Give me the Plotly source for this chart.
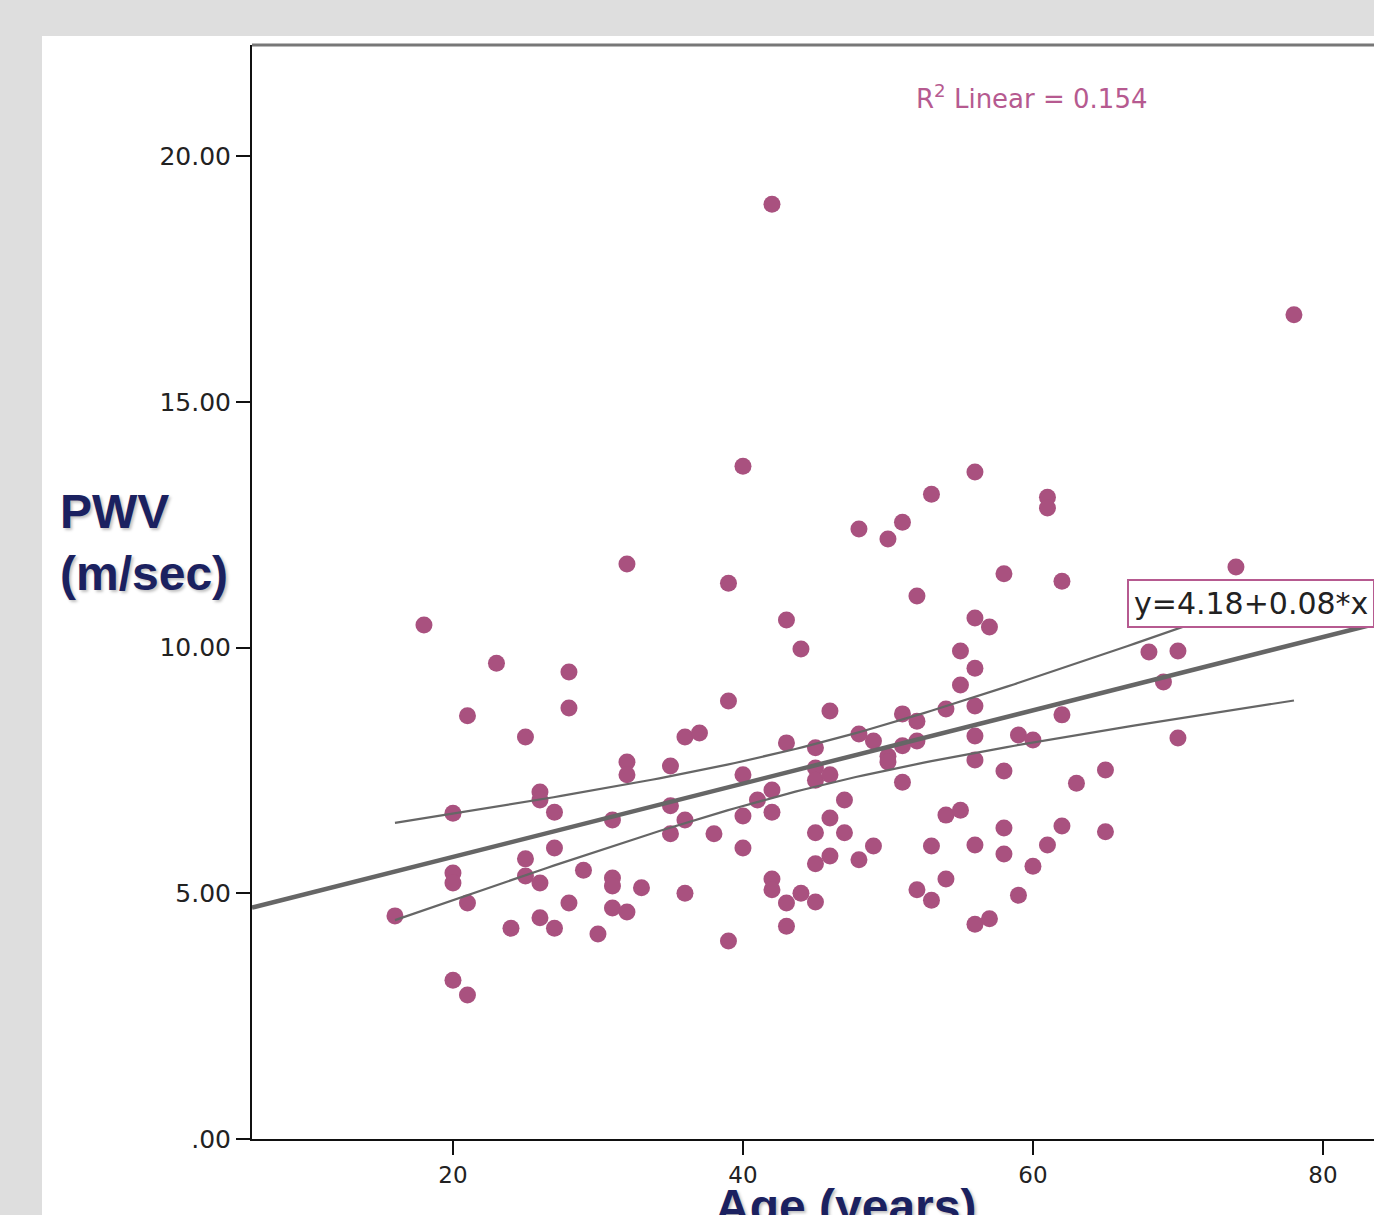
import numpy as np
import plotly.graph_objects as go

# ---------------- data ----------------
AGE = [16, 18, 20, 20, 20, 20, 21, 21, 21, 23, 24, 25, 25, 25, 26, 26, 26, 26,
       27, 27, 27, 28, 28, 28, 29, 30, 31, 31, 31, 31, 32, 32, 32, 32, 33,
       35, 35, 35, 36, 36, 36, 37, 38, 39, 39, 39, 40, 40, 40, 40, 41,
       42, 42, 42, 42, 42, 43, 43, 43, 43, 44, 44,
       45, 45, 45, 45, 45, 45, 46, 46, 46, 46, 47, 47, 48, 48, 48, 49, 49,
       50, 50, 50, 51, 51, 51, 51, 52, 52, 52, 52, 53, 53, 53, 54, 54, 54,
       55, 55, 55, 56, 56, 56, 56, 56, 56, 56, 56, 57, 57, 58, 58, 58, 58,
       59, 59, 60, 60, 61, 61, 61, 62, 62, 62, 63, 65, 65, 68, 69, 70, 70,
       74, 78]
PWV = [4.54, 10.46, 6.63, 5.41, 5.21, 3.23, 8.61, 4.80, 2.93, 9.68, 4.29, 8.18, 5.70, 5.35,
       7.06, 6.90, 5.21, 4.50, 6.65, 5.92, 4.29, 9.50, 8.77, 4.80, 5.47, 4.17,
       6.49, 5.31, 5.15, 4.70, 11.70, 7.67, 7.41, 4.62, 5.11,
       7.59, 6.78, 6.21, 8.18, 6.49, 5.00, 8.26, 6.21, 11.31, 8.91, 4.03,
       13.69, 7.41, 6.57, 5.92, 6.90,
       19.02, 7.10, 6.65, 5.29, 5.07, 10.56, 8.06, 4.80, 4.33, 9.97, 5.00,
       7.96, 7.55, 7.30, 6.23, 5.60, 4.82, 8.71, 7.41, 6.53, 5.76, 6.90, 6.23,
       12.41, 8.24, 5.68, 8.10, 5.96,
       12.21, 7.79, 7.67, 12.55, 8.65, 8.00, 7.26, 11.05, 8.50, 8.10, 5.07,
       13.12, 5.96, 4.86, 8.75, 6.59, 5.29,
       9.93, 9.24, 6.69, 13.57, 10.60, 9.58, 8.81, 8.20, 7.71, 5.98, 4.37,
       10.42, 4.48, 11.50, 7.49, 6.33, 5.80,
       8.22, 4.96, 8.12, 5.55, 13.06, 12.84, 5.98, 11.35, 8.63, 6.37, 7.24,
       7.51, 6.25, 9.91, 9.30, 9.93, 8.16,
       11.64, 16.77]

X_TICKS = [20, 40, 60, 80]
X_TICK_LABELS = ["20", "40", "60", "80"]
Y_TICKS = [0, 5, 10, 15, 20]
Y_TICK_LABELS = [".00", "5.00", "10.00", "15.00", "20.00"]
X_RANGE = [6.14, 83.52]
Y_RANGE = [0, 22.26]

X_TITLE = "<b>Age (years)</b>"
Y_TITLE = "<b>PWV<br>(m/sec)</b>"
R2_LABEL = "R<sup>2</sup> Linear = 0.154"
EQ_LABEL = "y=4.18+0.08*x"
T_CRIT = 1.979  # 95% t value, df ~ n-2

# ---------------- styles ----------------
POINT_COLOR = "#a9517f"
LABEL_PINK = "#b65a90"
LINE_GRAY = "#666666"
NAVY = "#1b2160"
PAGE_BG = "#dedede"

# ---------------- fit & confidence band from the data ----------------
x = np.array(AGE, dtype=float)
y = np.array(PWV, dtype=float)
n = len(x)
slope, intercept = np.polyfit(x, y, 1)
resid = y - (intercept + slope * x)
s = np.sqrt(np.sum(resid ** 2) / (n - 2))
xbar = x.mean()
sxx = np.sum((x - xbar) ** 2)

x_fit = np.array(X_RANGE)
y_fit = intercept + slope * x_fit

x_ci = np.linspace(x.min(), x.max(), 120)
y_ci = intercept + slope * x_ci
half = T_CRIT * s * np.sqrt(1.0 / n + (x_ci - xbar) ** 2 / sxx)

fig = go.Figure()
fig.add_trace(go.Scatter(x=x, y=y, mode="markers",
                         marker=dict(size=17, color=POINT_COLOR, line=dict(width=0)),
                         showlegend=False, hoverinfo="skip"))
fig.add_trace(go.Scatter(x=x_ci, y=y_ci + half, mode="lines",
                         line=dict(color=LINE_GRAY, width=2.2), showlegend=False, hoverinfo="skip"))
fig.add_trace(go.Scatter(x=x_ci, y=y_ci - half, mode="lines",
                         line=dict(color=LINE_GRAY, width=2.2), showlegend=False, hoverinfo="skip"))
fig.add_trace(go.Scatter(x=x_fit, y=y_fit, mode="lines",
                         line=dict(color=LINE_GRAY, width=4.5), showlegend=False, hoverinfo="skip"))

PLOT_L, PLOT_T, PLOT_W, PLOT_H = 252, 45, 1122, 1094


def px_x(p):
    return (p - PLOT_L) / PLOT_W


def px_y(p):
    return (PLOT_T + PLOT_H - p) / PLOT_H


TITLE_SHADOW = "2px 2px 3px rgba(0,0,0,0.25)"

fig.update_layout(
    width=1374, height=1215,
    margin=dict(l=PLOT_L, r=1374 - PLOT_L - PLOT_W, t=PLOT_T, b=1215 - PLOT_T - PLOT_H),
    paper_bgcolor=PAGE_BG,
    plot_bgcolor="white",
    font=dict(family="DejaVu Sans", color="#222222"),
    xaxis=dict(range=X_RANGE, tickvals=X_TICKS, ticktext=X_TICK_LABELS,
               showgrid=False, zeroline=False, showline=True, linecolor="#111111", linewidth=2,
               ticks="outside", ticklen=14, tickwidth=2, tickcolor="#111111",
               tickfont=dict(size=23, color="#222222", family="DejaVu Sans")),
    yaxis=dict(range=Y_RANGE, tickvals=Y_TICKS, ticktext=Y_TICK_LABELS,
               showgrid=False, zeroline=False, showline=True, linecolor="#111111", linewidth=2,
               ticks="outside", ticklen=14, tickwidth=2, tickcolor="#111111",
               tickfont=dict(size=25, color="#222222", family="DejaVu Sans")),
    shapes=[
        # white panel behind the chart
        dict(type="rect", xref="paper", yref="paper", layer="below",
             x0=px_x(42), x1=px_x(1400), y0=px_y(1230), y1=px_y(36),
             fillcolor="white", line=dict(width=0)),
        # top frame line
        dict(type="line", xref="paper", yref="paper",
             x0=0, x1=1.05, y0=1, y1=1, line=dict(color="#777777", width=3)),
    ],
    annotations=[
        dict(text=R2_LABEL, xref="paper", yref="paper", x=px_x(1031), y=px_y(97),
             xanchor="center", yanchor="middle", showarrow=False,
             font=dict(size=26, color=LABEL_PINK, family="DejaVu Sans")),
        dict(text=EQ_LABEL, xref="paper", yref="paper", x=px_x(1127), y=px_y(604),
             xanchor="left", yanchor="middle", showarrow=False,
             bgcolor="white", bordercolor=LABEL_PINK, borderwidth=2, borderpad=5,
             font=dict(size=30, color="#222222", family="DejaVu Sans")),
        dict(text=Y_TITLE, xref="paper", yref="paper", x=px_x(58), y=px_y(542),
             xanchor="left", yanchor="middle", align="left", showarrow=False,
             font=dict(size=48, color=NAVY, family="Liberation Sans", shadow=TITLE_SHADOW)),
        dict(text=X_TITLE, xref="paper", yref="paper", x=px_x(845), y=px_y(1178),
             xanchor="center", yanchor="top", showarrow=False,
             font=dict(size=48, color=NAVY, family="Liberation Sans", shadow=TITLE_SHADOW)),
    ],
)

fig.write_html(
    "out.html",
    config={"displayModeBar": False},
    post_script="document.body.style.margin='0';document.body.style.background='%s';" % PAGE_BG,
)
